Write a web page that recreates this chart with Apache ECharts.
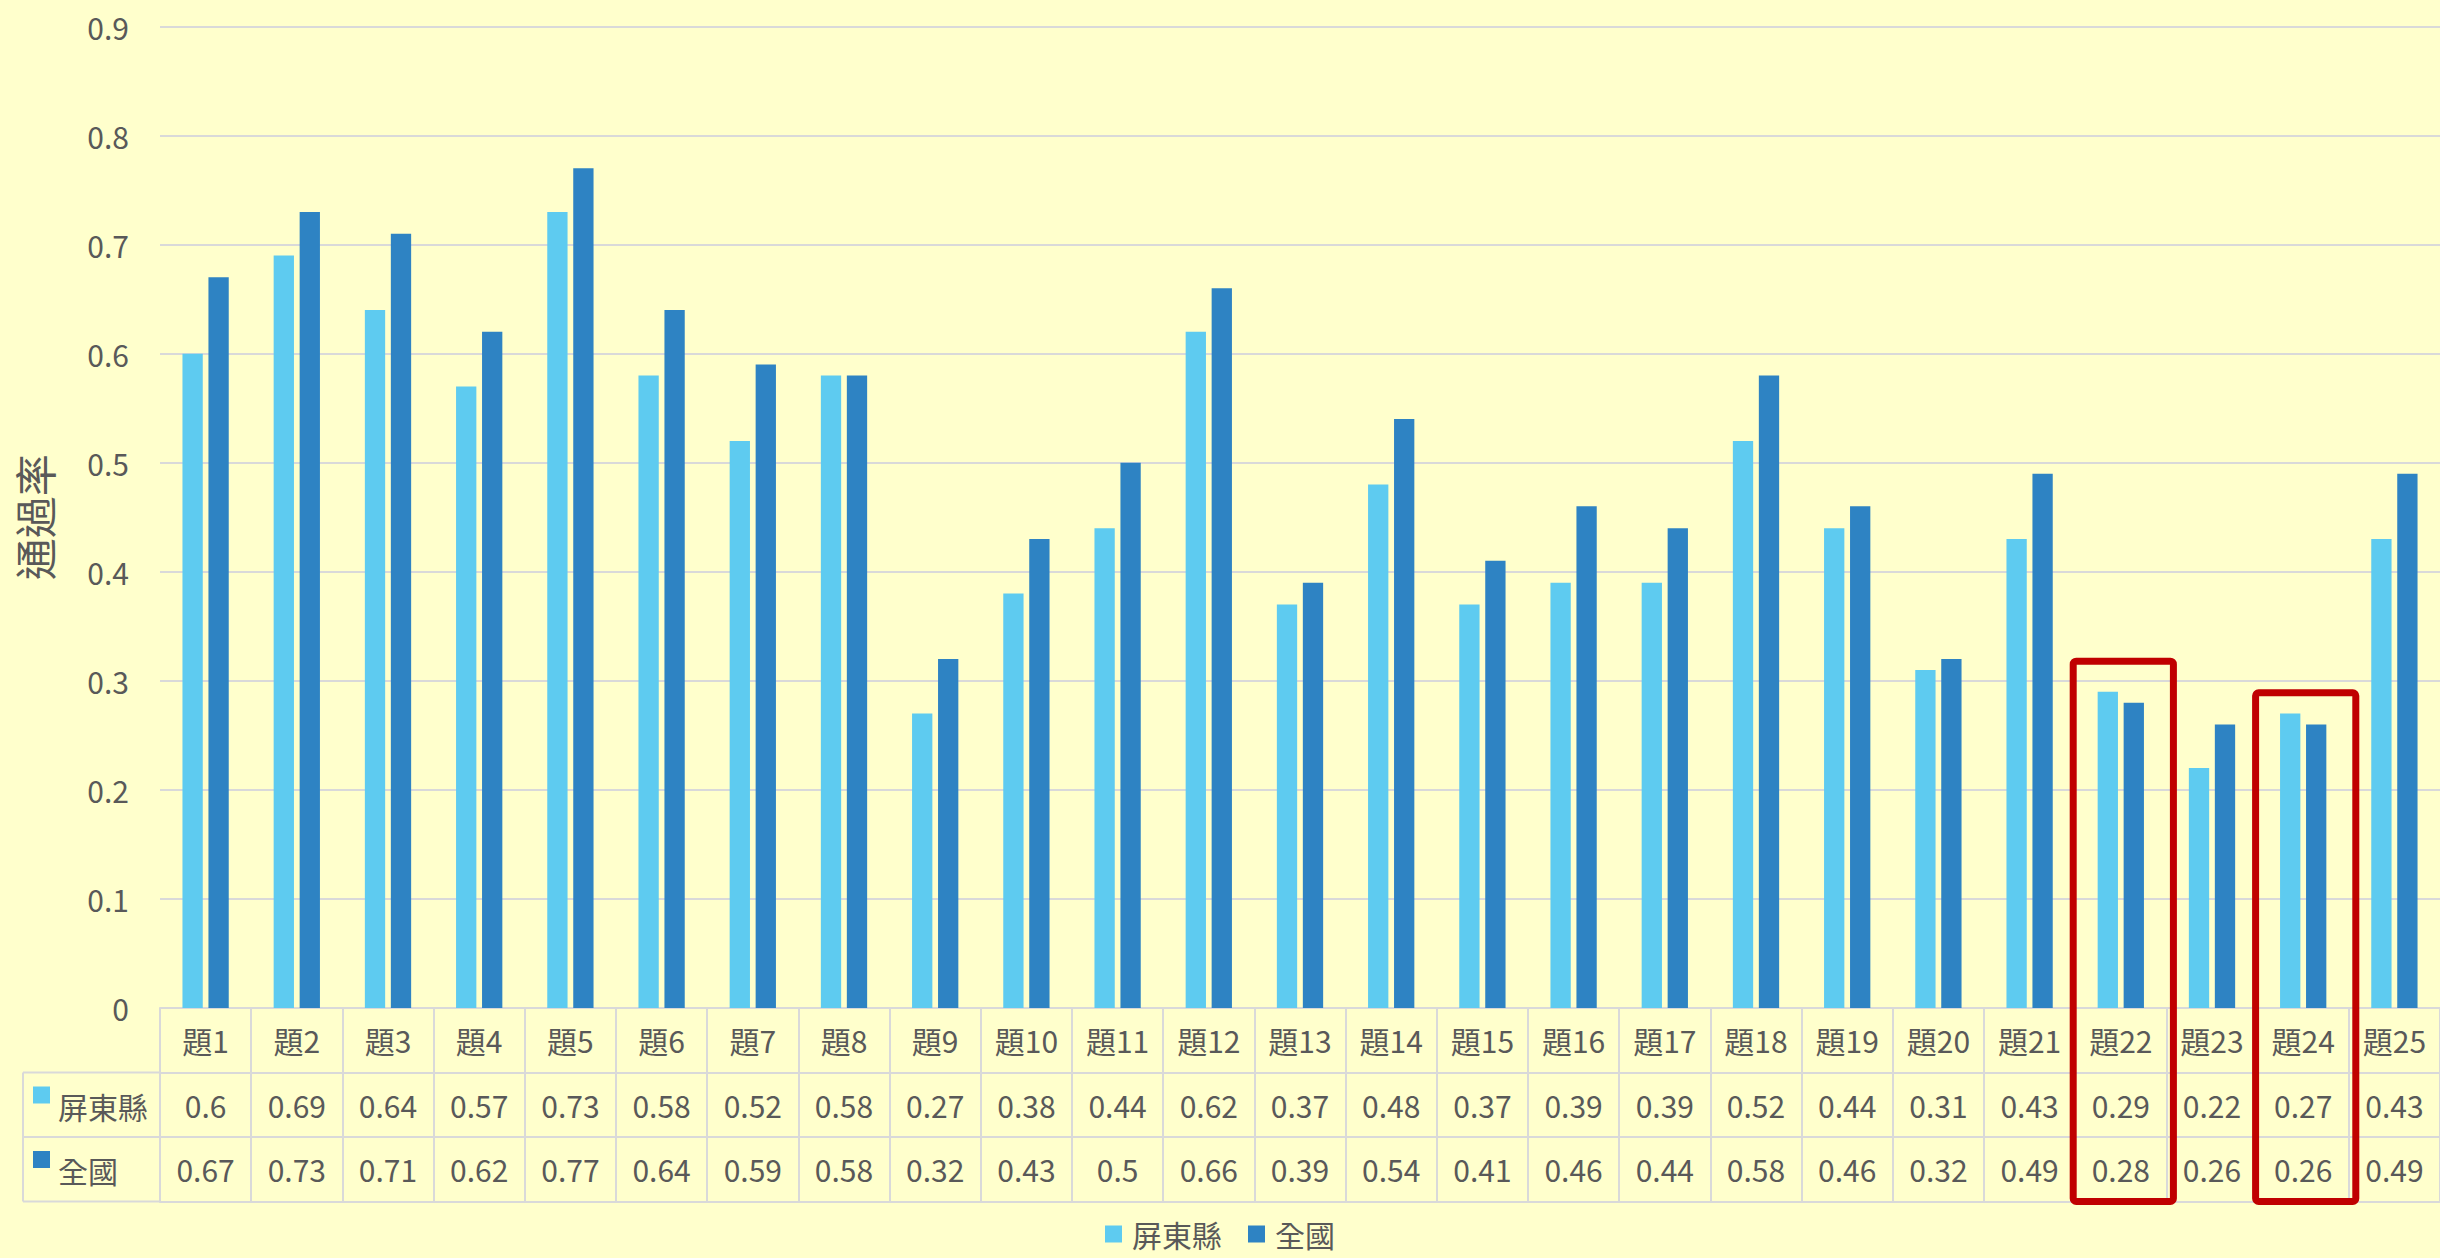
<!DOCTYPE html>
<html>
<head>
<meta charset="utf-8">
<title>通過率</title>
<script src="https://cdn.jsdelivr.net/npm/echarts@6/dist/echarts.min.js"></script>
<style>
  html, body { margin: 0; padding: 0; background: #ffffcc; }
  #main { width: 2440px; height: 1258px; }
</style>
</head>
<body>
<div id="main"></div>
<script>
// 題目
const categories = ['題1', '題2', '題3', '題4', '題5', '題6', '題7', '題8', '題9', '題10',
  '題11', '題12', '題13', '題14', '題15', '題16', '題17', '題18', '題19', '題20',
  '題21', '題22', '題23', '題24', '題25']
// 屏東縣 通過率
const pingtung = [0.6, 0.69, 0.64, 0.57, 0.73, 0.58, 0.52, 0.58, 0.27, 0.38,
  0.44, 0.62, 0.37, 0.48, 0.37, 0.39, 0.39, 0.52, 0.44, 0.31,
  0.43, 0.29, 0.22, 0.27, 0.43]
// 全國 通過率
const national = [0.67, 0.73, 0.71, 0.62, 0.77, 0.64, 0.59, 0.58, 0.32, 0.43,
  0.5, 0.66, 0.39, 0.54, 0.41, 0.46, 0.44, 0.58, 0.46, 0.32,
  0.49, 0.28, 0.26, 0.26, 0.49]
const seriesNames = ['屏東縣', '全國']
// 紅框標示的題目，以及框頂對應的數值
const boxedItems = ['題22', '題24']
const boxTops = [0.318, 0.289]

const font = "'Noto Sans CJK TC', 'Noto Sans', sans-serif"
const textColor = '#595959'
const lineColor = '#d9d9d9'
const colors = ['#5ecbf0', '#2e83c3']
const rowH = 64.5 // 資料表每列高度

const chart = echarts.init(document.getElementById('main'), null, { renderer: 'svg' })

// 資料表的一列（用 x 軸畫出）
function tableAxis (offset, values) {
  return {
    type: 'category',
    data: categories,
    position: 'bottom',
    offset: offset,
    axisLine: { show: true, lineStyle: { color: lineColor, width: 2 } },
    axisTick: {
      show: values !== null,
      interval: 0,
      length: rowH,
      lineStyle: { color: lineColor, width: 2 }
    },
    axisLabel: {
      show: values !== null,
      interval: 0,
      margin: rowH / 2,
      verticalAlign: 'middle',
      fontSize: 30,
      fontFamily: font,
      color: textColor,
      formatter: (val, idx) => (values === 'name' ? val : String(values[idx]))
    }
  }
}

chart.setOption({
  backgroundColor: '#ffffcc',
  textStyle: { fontFamily: font },
  animation: false,
  grid: { left: 160, right: 0, top: 26.5, bottom: 250, containLabel: false, outerBoundsMode: 'none' },
  legend: {
    data: seriesNames,
    left: 'center',
    top: 1214,
    icon: 'rect',
    itemWidth: 17,
    itemHeight: 17,
    itemGap: 26,
    textStyle: { fontSize: 30, color: textColor, fontFamily: font, padding: [0, 0, 0, 5] }
  },
  xAxis: [
    tableAxis(0, 'name'),
    tableAxis(rowH, pingtung),
    tableAxis(rowH * 2, national),
    tableAxis(rowH * 3, null)
  ],
  yAxis: {
    type: 'value',
    min: 0,
    max: 0.9,
    interval: 0.1,
    name: '通過率',
    nameLocation: 'middle',
    nameRotate: 90,
    nameGap: 106,
    nameTextStyle: { fontSize: 42, color: textColor, fontFamily: font },
    axisLine: { show: false },
    axisTick: { show: false },
    axisLabel: { fontSize: 30, color: textColor, fontFamily: font, margin: 31 },
    splitLine: { lineStyle: { color: lineColor, width: 2 } }
  },
  series: [
    {
      name: seriesNames[0],
      type: 'bar',
      data: pingtung,
      barWidth: 20.3,
      barGap: '28%',
      itemStyle: { color: colors[0] }
    },
    {
      name: seriesNames[1],
      type: 'bar',
      data: national,
      barWidth: 20.3,
      barGap: '28%',
      itemStyle: { color: colors[1] }
    }
  ]
})

// 左側列標題與格線
const baseY = chart.convertToPixel({ yAxisIndex: 0 }, 0)
const band = chart.convertToPixel({ xAxisIndex: 0 }, categories[1]) - chart.convertToPixel({ xAxisIndex: 0 }, categories[0])
const plotLeft = chart.convertToPixel({ xAxisIndex: 0 }, categories[0]) - band / 2
const tableLeft = 23
const lineStyle = { stroke: lineColor, lineWidth: 2 }
const graphics = []
for (let r = 1; r <= 3; r++) {
  graphics.push({
    type: 'line',
    shape: { x1: tableLeft, y1: baseY + rowH * r, x2: plotLeft, y2: baseY + rowH * r },
    style: lineStyle
  })
}
graphics.push({
  type: 'line',
  shape: { x1: tableLeft, y1: baseY + rowH, x2: tableLeft, y2: baseY + rowH * 3 },
  style: lineStyle
})
seriesNames.forEach((name, i) => {
  const top = baseY + rowH * (i + 1)
  graphics.push({
    type: 'rect',
    shape: { x: 33, y: top + 14, width: 17, height: 17 },
    style: { fill: colors[i] }
  })
  graphics.push({
    type: 'text',
    x: 58,
    y: top + rowH / 2 + 1,
    style: {
      text: name,
      fontSize: 30,
      fontFamily: font,
      fill: textColor,
      verticalAlign: 'middle'
    }
  })
})

// 紅框
boxedItems.forEach((name, i) => {
  const cx = chart.convertToPixel({ xAxisIndex: 0 }, name)
  const top = chart.convertToPixel({ yAxisIndex: 0 }, boxTops[i])
  const bottom = baseY + rowH * 3
  graphics.push({
    type: 'rect',
    z: 100,
    shape: { x: cx - band / 2 - 2, y: top, width: band + 9, height: bottom - top, r: 3 },
    style: { fill: 'none', stroke: '#c00000', lineWidth: 7 }
  })
})

chart.setOption({ graphic: graphics })
</script>
</body>
</html>
